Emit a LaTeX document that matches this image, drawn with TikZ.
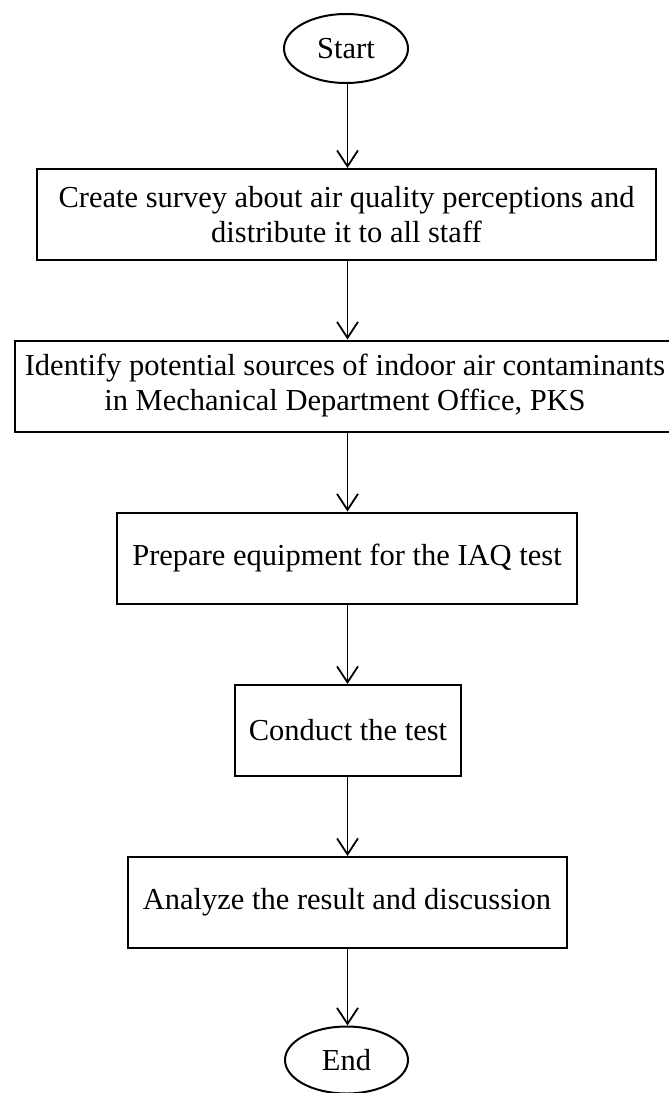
\documentclass[tikz,border=0pt]{standalone}
\usepackage{fontspec}
\setmainfont{Liberation Serif}
\usetikzlibrary{shapes.geometric,arrows.meta}
\tikzset{
  stepbox/.style={draw=black, line width=2pt, rectangle, align=center, inner sep=0pt, font=\fontsize{30.5}{35}\selectfont},
  term/.style={draw=black, line width=2pt, ellipse, inner sep=0pt, font=\fontsize{30.5}{35}\selectfont},
  flow/.style={line width=1.8pt, -{Straight Barb[length=16pt,width=21pt,line width=1.8pt]}}
}
\begin{document}
\begin{tikzpicture}[x=1pt,y=-1pt]
\useasboundingbox (0,0) rectangle (669,1093);
\node[term, minimum width=124pt, minimum height=69pt] (start) at (346,48.5) {Start};
\node[stepbox, minimum width=619pt, minimum height=91pt] (b1) at (346.5,214.5) {Create survey about air quality perceptions and\\distribute it to all staff};
\node[stepbox, minimum width=660pt, minimum height=91pt] (b2) at (345,386) {Identify potential sources of indoor air contaminants\\in Mechanical Department Office, PKS};
\node[stepbox, minimum width=460pt, minimum height=91pt] (b3) at (347,558) {Prepare equipment for the IAQ test};
\node[stepbox, minimum width=226pt, minimum height=91pt] (b4) at (348,730.5) {Conduct the test};
\node[stepbox, minimum width=439pt, minimum height=91pt] (b5) at (347,902.5) {Analyze the result and discussion};
\node[term, minimum width=123pt, minimum height=67pt] (end) at (346.5,1060) {End};
\coordinate (ax) at (347.5,0);
\draw[flow] (ax |- start.south) -- (ax |- b1.north);
\draw[flow] (ax |- b1.south) -- (ax |- b2.north);
\draw[flow] (ax |- b2.south) -- (ax |- b3.north);
\draw[flow] (ax |- b3.south) -- (ax |- b4.north);
\draw[flow] (ax |- b4.south) -- (ax |- b5.north);
\draw[flow] (ax |- b5.south) -- (ax |- end.north);
\end{tikzpicture}
\end{document}
